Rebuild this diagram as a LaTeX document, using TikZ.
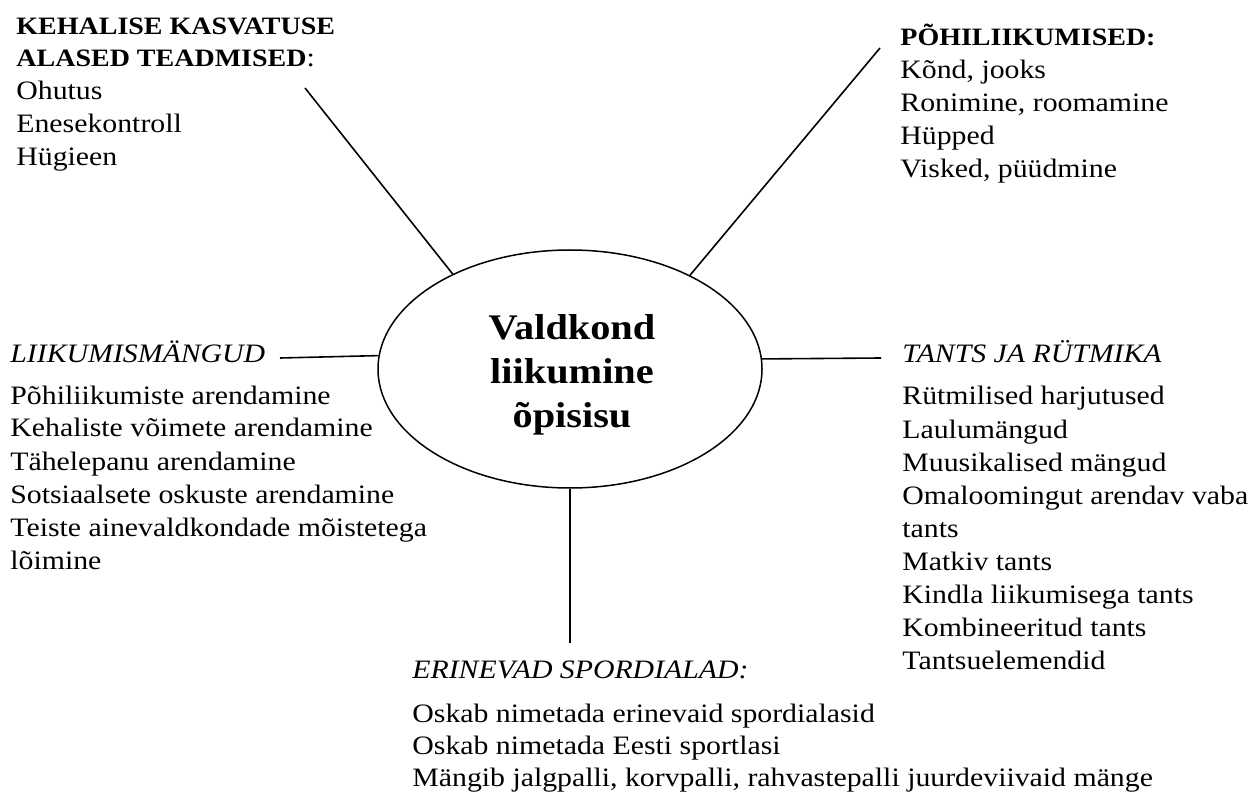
\documentclass[tikz,border=0pt]{standalone}
\usepackage{fontspec}
\setmainfont{Liberation Serif}[FakeStretch=1.12]
\usetikzlibrary{shapes.geometric}
\begin{document}
\begin{tikzpicture}[x=0.5pt,y=-0.5pt,
  txt/.style={anchor=base west, inner sep=0pt, font=\fontsize{13.3}{16}\selectfont},
  hdb/.style={anchor=base west, inner sep=0pt, font=\fontsize{12.5}{16}\selectfont\bfseries},
  hdi/.style={anchor=base west, inner sep=0pt, font=\fontsize{13.3}{16}\selectfont\itshape},
  conn/.style={line width=0.8pt},
  hub/.style={draw, ellipse, line width=0.75pt, minimum width=192pt, minimum height=119pt, inner sep=0pt}]
\fill[white] (0,0) rectangle (1252,796);
\useasboundingbox (0,0) rectangle (1252,796);
% hub
\node[hub] (c) at (570,369) {};
\node[font=\fontsize{18}{22}\selectfont\bfseries, align=center, inner sep=0pt] (ct) at (572,375) {Valdkond\\liikumine\\õpisisu};
% top-left block
\node[hdb] (tlh1) at (16,35) {KEHALISE KASVATUSE};
\node[hdb] (tlh2) at (16,67) {ALASED TEADMISED{\mdseries\fontsize{13.3}{16}\selectfont:}};
\foreach \t [count=\i] in {Ohutus, Enesekontroll, Hügieen}
  \node[txt] (tl-\i) at (16,{100+33*(\i-1)}) {\t};
% top-right block
\node[hdb] (trh) at (900,46) {PÕHILIIKUMISED:};
\foreach \t [count=\i] in {{Kõnd, jooks}, {Ronimine, roomamine}, Hüpped, {Visked, püüdmine}}
  \node[txt] (tr-\i) at (900,{79+33*(\i-1)}) {\t};
% left block
\node[hdi] (lh) at (10,363) {LIIKUMISMÄNGUD};
\foreach \t [count=\i] in {Põhiliikumiste arendamine, Kehaliste võimete arendamine, Tähelepanu arendamine, Sotsiaalsete oskuste arendamine, Teiste ainevaldkondade mõistetega, lõimine}
  \node[txt] (l-\i) at (10,{404+33*(\i-1)}) {\t};
% right block
\node[hdi] (rh) at (902,363) {TANTS JA RÜTMIKA};
\foreach \t [count=\i] in {Rütmilised harjutused, Laulumängud, Muusikalised mängud, Omaloomingut arendav vaba, tants, Matkiv tants, Kindla liikumisega tants, Kombineeritud tants, Tantsuelemendid}
  \node[txt] (r-\i) at (902,{405+33*(\i-1)}) {\t};
% bottom block
\node[hdi] (bh) at (412,678) {ERINEVAD SPORDIALAD:};
\foreach \t [count=\i] in {Oskab nimetada erinevaid spordialasid, Oskab nimetada Eesti sportlasi, {Mängib jalgpalli, korvpalli, rahvastepalli juurdeviivaid mänge}}
  \node[txt] (b-\i) at (412,{722+32*(\i-1)}) {\t};
% connectors
\coordinate (ptl) at (305,88);
\coordinate (ptr) at (880,48);
\coordinate (pl) at (280,358);
\coordinate (pr) at (881,358);
\coordinate (pb) at (570,643);
\draw[conn] (ptl) -- (c.141.9);
\draw[conn] (ptr) -- (c.38.1);
\draw[conn] (pl) -- (c.176.7);
\draw[conn] (c.3.3) -- (pr);
\draw[conn] (c.south) -- (pb);
\end{tikzpicture}
\end{document}
